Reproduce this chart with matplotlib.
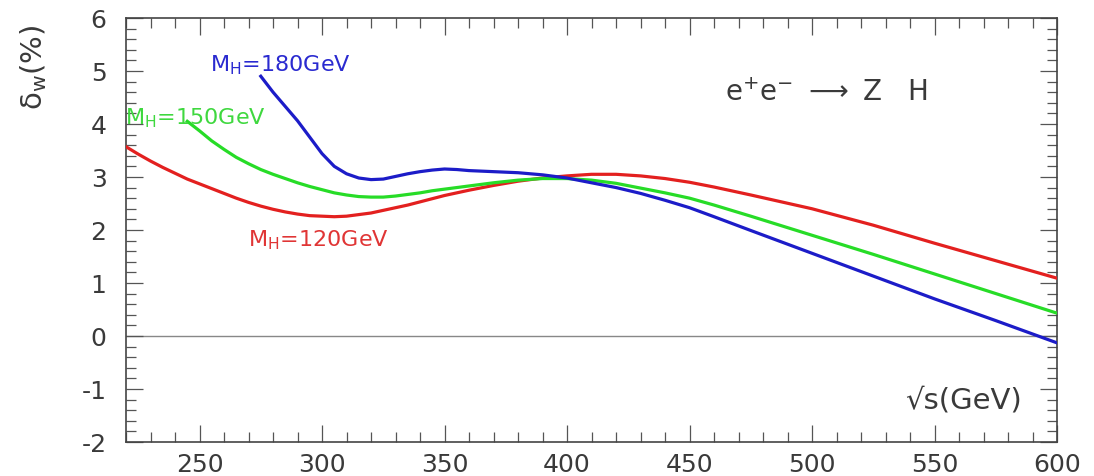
import matplotlib
matplotlib.use("Agg")
import matplotlib.pyplot as plt
from matplotlib.ticker import MultipleLocator

plt.rcParams['font.family'] = ['DejaVu Sans']
plt.rcParams['mathtext.fontset'] = 'dejavusans'
plt.rcParams['axes.unicode_minus'] = False

# sqrt(s) in GeV and weak correction delta_W in percent
x_120 = [220, 225, 230, 235, 240, 245, 250, 255, 260, 265, 270, 275, 280, 285,
         290, 295, 300, 305, 310, 315, 320, 325, 330, 335, 340, 345, 350, 355,
         360, 370, 380, 390, 400, 410, 420, 430, 440, 450, 460, 475, 500, 525,
         550, 575, 600]
d_120 = [3.57, 3.43, 3.30, 3.18, 3.07, 2.96, 2.87, 2.78, 2.69, 2.60, 2.52, 2.45,
         2.39, 2.34, 2.30, 2.27, 2.26, 2.25, 2.26, 2.29, 2.32, 2.37, 2.42, 2.47,
         2.53, 2.59, 2.65, 2.70, 2.75, 2.84, 2.92, 2.98, 3.02, 3.05, 3.05, 3.02,
         2.97, 2.90, 2.81, 2.66, 2.40, 2.09, 1.75, 1.42, 1.09]

x_150 = [245, 250, 255, 260, 265, 270, 275, 280, 285, 290, 295, 300, 305, 310,
         315, 320, 325, 330, 335, 340, 345, 350, 360, 370, 380, 390, 400, 410,
         420, 430, 440, 450, 460, 475, 500, 525, 550, 575, 600]
d_150 = [4.05, 3.87, 3.68, 3.52, 3.37, 3.25, 3.14, 3.05, 2.97, 2.89, 2.82, 2.76,
         2.70, 2.66, 2.63, 2.62, 2.62, 2.64, 2.67, 2.70, 2.74, 2.77, 2.83, 2.89,
         2.94, 2.97, 2.97, 2.94, 2.88, 2.79, 2.70, 2.60, 2.47, 2.26, 1.90, 1.54,
         1.17, 0.80, 0.43]

x_180 = [275, 280, 285, 290, 295, 300, 305, 310, 315, 320, 325, 330, 335, 340,
         345, 350, 355, 360, 370, 380, 390, 400, 410, 420, 430, 440, 450, 460,
         475, 500, 525, 550, 575, 600]
d_180 = [4.90, 4.60, 4.33, 4.06, 3.75, 3.44, 3.20, 3.06, 2.98, 2.95, 2.96, 3.01,
         3.06, 3.10, 3.13, 3.15, 3.14, 3.12, 3.10, 3.08, 3.04, 2.98, 2.89, 2.80,
         2.69, 2.56, 2.42, 2.25, 1.99, 1.56, 1.13, 0.70, 0.29, -0.13]

fig = plt.figure(figsize=(10.94, 4.77), dpi=100)
ax = fig.add_axes([0.1152, 0.0713, 0.851, 0.889])

ax.axhline(0, color='#888888', lw=1.0, zorder=1)
ax.plot(x_120, d_120, color='#e3201f', lw=2.3, zorder=3)
ax.plot(x_150, d_150, color='#27dc27', lw=2.3, zorder=3)
ax.plot(x_180, d_180, color='#1c1cc8', lw=2.3, zorder=4)

ax.set_xlim(220, 600)
ax.set_ylim(-2, 6)
ax.xaxis.set_major_locator(MultipleLocator(50))
ax.xaxis.set_minor_locator(MultipleLocator(10))
ax.yaxis.set_major_locator(MultipleLocator(1))
ax.yaxis.set_minor_locator(MultipleLocator(0.2))
ax.tick_params(which='both', direction='in', top=True, right=True,
               color='#555555', width=0.9)
ax.tick_params(which='major', length=12, labelsize=18, labelcolor='#3a3a3a')
ax.tick_params(which='minor', length=7)
ax.tick_params(axis='x', pad=7)
ax.tick_params(axis='y', pad=14)
for s in ax.spines.values():
    s.set_color('#444444')
    s.set_linewidth(1.2)

fig.text(0.031, 0.86, r'δ$_{\rm w}$(%)', rotation=90,
         ha='center', va='center', fontsize=21, color='#3a3a3a')

ax.text(585.5, -1.19, '√s(GeV)', ha='right', va='center', fontsize=21,
        color='#3a3a3a')
ax.text(464.5, 4.6, r'e$^{+}$e$^{-}$ $\longrightarrow$ Z   H', ha='left',
        va='center', fontsize=20, color='#3a3a3a')

ax.text(254.3, 5.13, r'M$_{\rm H}$=180GeV', color='#2a2ad0', fontsize=16,
        ha='left', va='center')
ax.text(219.6, 4.13, r'M$_{\rm H}$=150GeV', color='#3fd83f', fontsize=16,
        ha='left', va='center')
ax.text(269.9, 1.83, r'M$_{\rm H}$=120GeV', color='#e03535', fontsize=16,
        ha='left', va='center')

fig.savefig('out.png', dpi=100)
